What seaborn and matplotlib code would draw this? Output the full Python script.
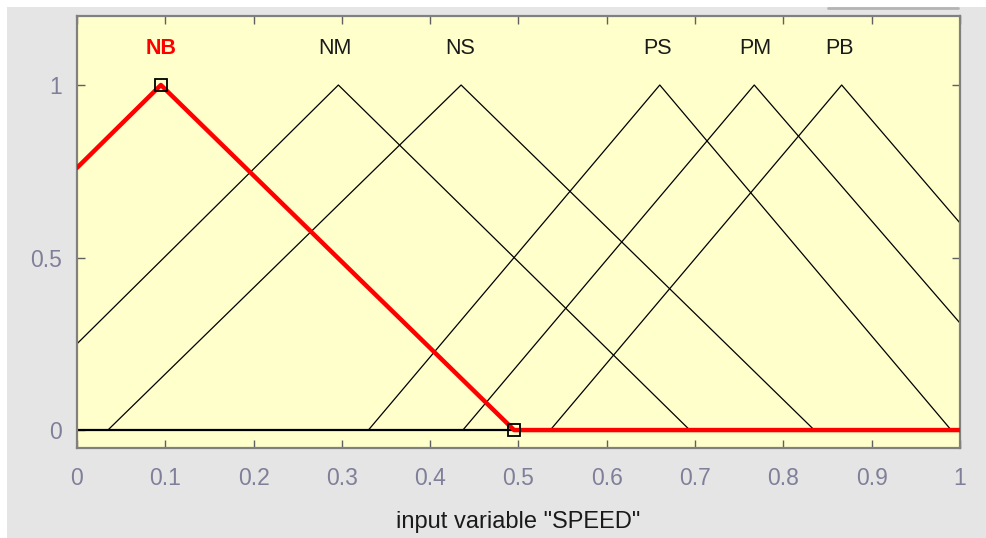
import numpy as np
import pandas as pd
import matplotlib
matplotlib.use("Agg")
import matplotlib.pyplot as plt
from matplotlib.patches import Rectangle
from matplotlib.lines import Line2D
import seaborn as sns

# membership functions (vertices)
mf_names = ["NB", "NM", "NS", "PS", "PM", "PB"]
nb_x = [0.0, 0.095, 0.495, 1.0]
nb_y = [0.76, 1.0, 0.0, 0.0]
nm_x = [0.0, 0.296, 0.694, 1.0]
nm_y = [0.25, 1.0, 0.0, 0.0]
ns_x = [0.0, 0.035, 0.435, 0.835, 1.0]
ns_y = [0.0, 0.0, 1.0, 0.0, 0.0]
ps_x = [0.0, 0.33, 0.66, 0.99, 1.0]
ps_y = [0.0, 0.0, 1.0, 0.0, 0.0]
pm_x = [0.0, 0.437, 0.767, 1.0]
pm_y = [0.0, 0.0, 1.0, 0.31]
pb_x = [0.0, 0.536, 0.866, 1.0]
pb_y = [0.0, 0.0, 1.0, 0.6]
label_x = [0.095, 0.292, 0.434, 0.657, 0.768, 0.863]

x_ticks = [0, 0.1, 0.2, 0.3, 0.4, 0.5, 0.6, 0.7, 0.8, 0.9, 1]
x_tick_labels = ["0", "0.1", "0.2", "0.3", "0.4", "0.5", "0.6", "0.7", "0.8", "0.9", "1"]
y_ticks = [0, 0.5, 1]
y_tick_labels = ["0", "0.5", "1"]

sns.set_theme(style="white")
plt.rcParams["font.family"] = ["Liberation Sans", "DejaVu Sans"]

fig = plt.figure(figsize=(9.87, 5.38), dpi=100)
fig.patch.set_facecolor("white")
# gray panel behind the axes
fig.patches.append(Rectangle((7 / 987, 0), 1, 531 / 538, transform=fig.transFigure,
                             facecolor="#e5e5e5", edgecolor="none", zorder=-5))
fig.lines.append(Line2D([828 / 987, 958 / 987], [530 / 538, 530 / 538], transform=fig.transFigure,
                        color="#b4b4b4", lw=2, zorder=-4))

ax = fig.add_axes([77 / 987, 1 - 448 / 538, 883 / 987, 432 / 538])
ax.set_facecolor("#ffffcc")

all_x = [nb_x, nm_x, ns_x, ps_x, pm_x, pb_x]
all_y = [nb_y, nm_y, ns_y, ps_y, pm_y, pb_y]

# zero line
sns.lineplot(x=[0, 1], y=[0, 0], color="black", linewidth=1.6, ax=ax)

for name, xs, ys in zip(mf_names[1:], all_x[1:], all_y[1:]):
    sns.lineplot(x=xs, y=ys, color="black", linewidth=0.9, sort=False, estimator=None, ax=ax)

sns.lineplot(x=nb_x, y=nb_y, color="red", linewidth=3.2, sort=False, estimator=None, ax=ax, zorder=3)

# selection squares on the red function
ax.plot([nb_x[1], nb_x[2]], [nb_y[1], nb_y[2]], linestyle="none", marker="s", markersize=8,
        mfc="none", mec="black", mew=1.3, zorder=4)

for i, name in enumerate(mf_names):
    ax.text(label_x[i], 1.105, name, ha="center", va="center", fontsize=15.5,
            color="red" if i == 0 else "#1a1a1a",
            fontweight="semibold" if i == 0 else "normal")

ax.set_xlim(0, 1)
ax.set_ylim(-0.052, 1.2)
ax.set_xticks(x_ticks)
ax.set_xticklabels(x_tick_labels)
ax.set_yticks(y_ticks)
ax.set_yticklabels(y_tick_labels)
ax.tick_params(axis="both", direction="in", length=6, width=1, color="#606060",
               labelcolor="#7f7f9a", labelsize=16.5, top=True, right=True, bottom=True, left=True)
ax.tick_params(axis="x", pad=14)
ax.tick_params(axis="y", pad=11)
for s in ax.spines.values():
    s.set_color("#808080")
    s.set_linewidth(1.6)
ax.set_xlabel('input variable "SPEED"', fontsize=17, color="#1a1a1a", labelpad=15)
ax.set_ylabel("")

fig.savefig("out.png", dpi=100)
